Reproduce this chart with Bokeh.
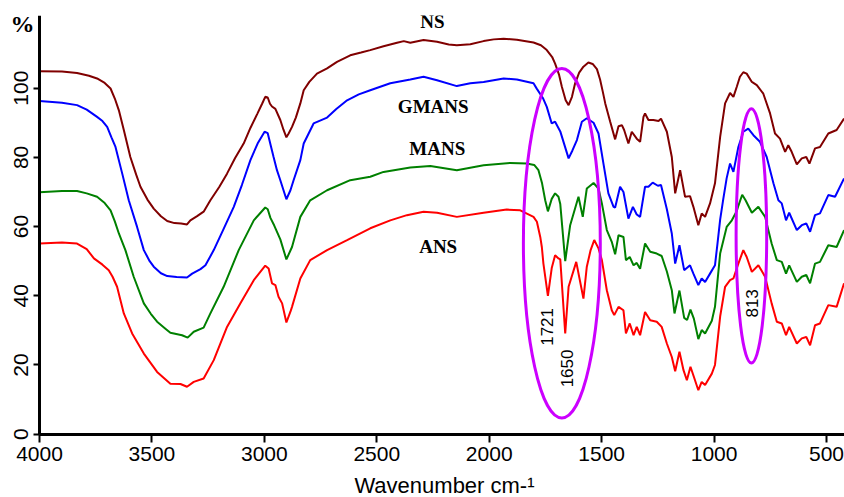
from bokeh.plotting import figure
from bokeh.models import Range1d, FixedTicker, Label
from bokeh.embed import file_html
from bokeh.resources import INLINE
import math

# ---- data (wavenumber cm-1, transmittance %) ----
ns_wn = [4000,3900,3833,3780,3744,3710,3684,3665,3647,3625,3596,3570,3551,3520,3492,3460,3432,3400,3370,3344,3329,3299,3270,3240,3200,3166,3130,3092,3062,3032,3010,2996,2985,2975,2966,2951,2929,2915,2902,2892,2877,2860,2840,2825,2800,2766,2721,2677,2618,2570,2529,2470,2410,2380,2351,2292,2232,2180,2144,2084,2025,1980,1936,1877,1803,1770,1744,1720,1707,1690,1677,1660,1647,1632,1618,1600,1581,1559,1540,1521,1507,1495,1484,1462,1440,1425,1410,1400,1381,1366,1344,1329,1314,1307,1292,1270,1247,1236,1210,1188,1173,1151,1129,1107,1092,1070,1055,1040,1018,996,973,951,929,914,899,885,870,855,832,810,781,751,729,707,684,670,655,632,610,590,576,551,529,492,455,422]
ns_t = [104.9,104.8,104.4,103.6,102.8,101.5,99.9,97.0,93.6,87.9,80.1,75.0,71.5,67.8,65.2,63.0,61.6,61.0,60.9,60.6,61.8,63.0,64.3,67.6,71.5,75.3,79.8,84.0,88.5,92.5,95.5,97.5,97.3,95.5,94.7,94.0,90.8,88.0,85.8,86.9,88.8,91.5,95.6,99.4,101.8,104.2,105.7,107.6,109.5,110.3,111.0,112.1,113.1,113.6,113.1,113.9,113.4,112.6,112.4,112.7,113.6,114.1,114.3,114.0,113.2,112.4,111.0,109.0,107.1,104.0,100.4,96.5,95.1,97.5,101.4,104.5,106.2,107.4,107.0,105.5,102.5,99.0,95.6,90.3,85.2,89.0,89.3,87.9,84.0,87.4,85.4,84.5,91.7,92.7,90.8,90.8,90.5,91.2,87.4,80.1,69.6,76.3,68.6,68.8,65.7,60.4,63.8,62.8,66.7,72.5,85.9,95.6,98.6,97.5,100.4,103.3,104.6,104.2,101.8,100.9,98.4,92.7,86.9,85.4,81.6,83.5,81.6,78.0,79.7,80.1,78.2,82.6,83.0,86.9,87.9,91.2]

gm_wn = [4000,3900,3833,3790,3744,3720,3699,3680,3662,3632,3603,3566,3536,3510,3492,3460,3432,3390,3344,3321,3284,3262,3225,3180,3136,3100,3062,3030,2999,2985,2970,2959,2944,2929,2902,2884,2870,2840,2825,2781,2721,2680,2632,2580,2529,2440,2351,2292,2232,2144,2084,2025,1936,1877,1803,1788,1760,1744,1722,1707,1684,1647,1630,1610,1588,1566,1536,1514,1492,1470,1447,1440,1418,1403,1381,1361,1344,1329,1307,1292,1273,1250,1236,1210,1188,1173,1154,1133,1107,1092,1070,1055,1040,1018,996,985,973,959,944,929,914,892,870,848,825,796,766,736,714,699,680,666,632,610,590,573,551,529,492,462,422]
gm_t = [96.3,95.8,95.1,93.8,91.7,90.5,88.8,85.8,83.0,75.3,67.6,59.9,53.2,50.0,48.4,46.5,45.7,45.4,45.3,46.4,47.7,48.8,53.2,59.5,65.7,72.0,79.2,84.0,87.4,87.0,83.0,80.1,76.3,73.4,67.9,70.5,73.4,79.2,84.0,89.8,91.5,94.0,96.5,98.2,99.4,101.4,102.5,103.3,102.3,100.6,101.4,101.8,102.8,102.5,101.4,99.8,97.0,94.6,89.8,90.3,87.5,79.7,82.0,85.0,90.3,91.3,90.0,86.9,78.2,69.6,65.7,65.5,71.5,70.0,62.3,65.7,63.5,62.8,71.5,71.5,72.7,71.8,72.0,65.0,58.0,49.3,54.6,47.4,48.8,46.4,43.1,45.0,44.0,46.4,48.8,55.0,62.0,68.0,74.0,78.2,75.8,83.0,87.4,88.3,86.4,84.5,80.1,72.5,67.6,66.7,61.8,64.0,59.0,60.4,60.9,58.5,63.3,63.8,69.1,68.6,73.9]

ma_wn = [4000,3900,3833,3790,3744,3710,3684,3665,3647,3618,3581,3536,3505,3477,3440,3418,3366,3341,3314,3270,3240,3181,3114,3047,2996,2985,2973,2956,2929,2902,2877,2840,2796,2721,2618,2529,2470,2351,2262,2144,2025,1907,1833,1800,1781,1765,1751,1739,1722,1707,1692,1684,1662,1640,1603,1584,1566,1536,1514,1499,1477,1455,1440,1425,1403,1392,1375,1358,1344,1329,1307,1284,1255,1233,1210,1188,1176,1154,1133,1120,1105,1090,1070,1055,1040,1010,996,973,944,921,899,892,875,860,832,803,773,744,721,699,680,666,632,610,590,573,551,529,492,455,422]
ma_t = [69.9,70.3,70.3,69.6,68.6,66.8,64.7,61.5,58.0,53.2,45.5,37.8,34.8,32.5,30.5,29.3,28.6,27.9,29.6,30.8,34.9,42.6,53.2,61.8,65.5,65.0,62.5,60.3,56.3,50.5,54.1,62.8,67.6,70.5,73.4,74.4,75.8,77.1,77.5,76.3,77.7,78.4,78.2,77.8,76.3,72.5,67.6,64.4,68.0,69.6,68.6,66.5,50.0,60.4,68.6,62.8,71.0,72.6,71.0,66.7,59.0,55.6,52.0,57.5,57.0,50.3,51.2,48.8,49.5,47.8,55.1,52.7,52.2,51.5,47.0,41.6,34.9,41.5,33.6,33.0,36.0,33.4,27.5,30.1,29.1,32.8,36.8,52.2,59.9,61.8,64.5,66.0,69.2,67.6,64.0,65.7,62.8,55.1,50.3,49.8,46.4,48.8,44.0,45.5,46.0,43.6,49.3,49.8,54.6,54.1,59.0]

an_wn = [4000,3900,3833,3790,3758,3720,3692,3675,3655,3625,3588,3536,3477,3418,3373,3344,3314,3270,3225,3166,3107,3047,2996,2981,2966,2951,2937,2921,2902,2884,2877,2840,2796,2721,2632,2529,2440,2366,2292,2232,2144,2025,1922,1862,1803,1788,1773,1766,1759,1739,1722,1707,1692,1684,1662,1647,1613,1581,1566,1549,1533,1514,1499,1477,1455,1444,1425,1403,1392,1375,1358,1344,1329,1307,1284,1255,1233,1210,1188,1173,1154,1136,1121,1105,1090,1070,1055,1040,1010,996,973,951,929,914,892,870,855,832,803,773,744,721,699,680,666,632,610,590,573,551,529,492,455,422]
an_t = [55.1,55.4,55.1,53.5,50.8,49.0,47.4,45.5,42.6,34.9,29.1,23.3,18.0,14.6,14.5,13.7,15.1,16.1,21.4,31.0,37.8,44.5,48.7,47.9,43.6,43.1,39.7,37.8,32.3,35.4,36.8,45.0,50.3,53.2,56.1,59.5,61.8,63.3,64.3,64.0,62.8,64.0,64.9,64.7,62.8,61.4,57.0,54.1,49.3,40.0,48.0,51.7,50.8,50.5,29.1,42.6,49.8,39.2,48.4,53.2,56.1,53.7,50.3,41.6,35.8,34.4,36.8,35.8,29.1,32.0,28.6,31.0,28.6,35.3,32.9,32.5,31.0,26.2,22.3,18.2,23.8,18.5,15.6,19.5,16.6,12.7,15.1,14.2,17.5,20.0,34.0,42.6,44.5,45.0,49.3,53.2,51.2,46.9,48.8,45.5,37.8,32.5,32.0,28.6,31.0,26.2,27.7,28.1,25.7,31.5,32.0,37.3,36.8,43.6]

series_names = ["NS", "GMANS", "MANS", "ANS"]
series_colors = ["#800000", "#0000ff", "#008000", "#ff0000"]

x_ticks = [4000, 3500, 3000, 2500, 2000, 1500, 1000, 500]
y_ticks = [0, 20, 40, 60, 80, 100]

# series name labels (wavenumber, %)
name_x = [2253, 2249, 2231, 2227]
name_y = [119.2, 94.6, 82.6, 54.1]

# band annotations
band_text = ["1721", "1650", "813"]
band_x = [1744, 1655, 832]
band_y = [31.0, 19.0, 37.8]

# highlight ellipses (centre wavenumber, centre %, width, height)
ell_x = [1677, 834]
ell_y = [55.2, 57.3]
ell_w = [342, 136]
ell_h = [101, 73.6]

X_MAX = 4000
X_MIN = 420
X_LEFT = 4173.4    # room left of the 4000 axis for the y tick labels
Y_MIN_AX = 0
Y_TOP = 121
Y_BOTTOM = -18.3   # room below the 0 axis for the x tick labels / title

p = figure(width=844, height=497, output_backend="svg", toolbar_location=None,
           x_range=Range1d(X_LEFT, X_MIN), y_range=Range1d(Y_BOTTOM, Y_TOP),
           min_border_left=0, min_border_right=0, min_border_top=15, min_border_bottom=0)
p.outline_line_color = None
p.xgrid.visible = False
p.ygrid.visible = False
p.background_fill_color = "white"
p.border_fill_color = "white"

for wn, t, c in zip([ns_wn, gm_wn, ma_wn, an_wn], [ns_t, gm_t, ma_t, an_t], series_colors):
    p.line(wn, t, line_color=c, line_width=2)

p.ellipse(x=ell_x, y=ell_y, width=ell_w, height=ell_h, fill_color=None,
          line_color="#cc00ff", line_width=3)

FONT = "Liberation Sans"
for ax in (p.xaxis[0], p.yaxis[0]):
    ax.axis_line_width = 3
    ax.axis_line_color = "black"
    ax.major_tick_line_width = 2
    ax.major_tick_in = 0
    ax.minor_tick_line_color = None
    ax.major_label_text_font = FONT
    ax.major_label_text_font_size = "21px"
    ax.major_label_text_color = "black"

p.xaxis.ticker = FixedTicker(ticks=x_ticks)
p.xaxis.fixed_location = Y_MIN_AX
p.xaxis.bounds = (X_MIN, X_MAX)
p.xaxis.major_tick_out = 8
p.xaxis.major_label_standoff = 5

p.yaxis.ticker = FixedTicker(ticks=y_ticks)
p.yaxis.fixed_location = X_MAX
p.yaxis.bounds = (Y_MIN_AX, Y_TOP)
p.yaxis.major_tick_out = 6
p.yaxis.major_label_standoff = 5
p.yaxis.major_label_orientation = "vertical"

# x-axis title placed under the axis, centred on the axis span
p.add_layout(Label(x=2199, y=-14.7, text="Wavenumber cm-\u00b9", text_font=FONT,
                   text_font_size="22px", text_align="center", text_baseline="middle",
                   text_color="black"))

p.add_layout(Label(x=4076, y=118.5, text="%", text_font="Liberation Serif",
                   text_font_style="bold", text_font_size="24px",
                   text_align="center", text_baseline="middle", text_color="black"))

for name, nx, ny in zip(series_names, name_x, name_y):
    p.add_layout(Label(x=nx, y=ny, text=name, text_font="Liberation Serif",
                       text_font_style="bold", text_font_size="19px",
                       text_align="center", text_baseline="middle", text_color="black"))

for t, bx, by in zip(band_text, band_x, band_y):
    p.add_layout(Label(x=bx, y=by, text=t, text_font=FONT, text_font_size="17px",
                       angle=math.pi / 2, text_align="center", text_baseline="middle",
                       text_color="black"))

open("out.html", "w").write(file_html(p, INLINE))
